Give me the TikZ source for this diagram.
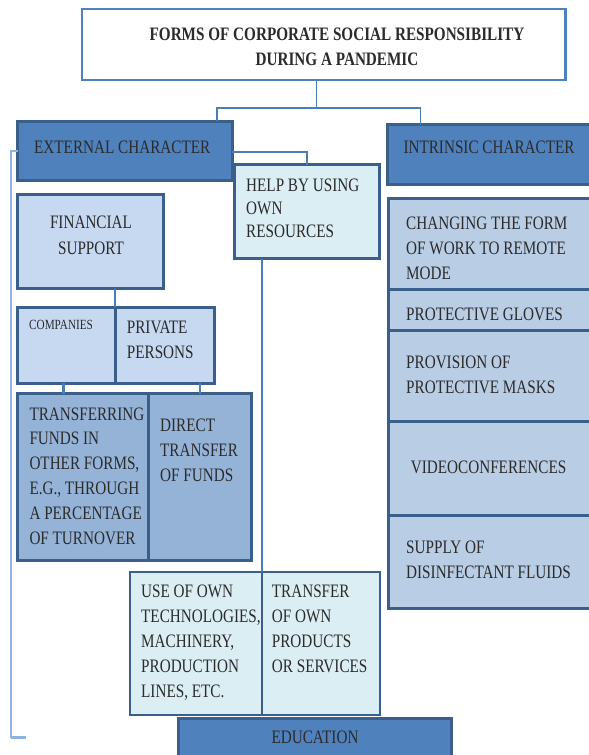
\documentclass[tikz,border=0pt]{standalone}
\usepackage{fontspec}
\setmainfont{Liberation Serif}[FakeStretch=0.8]
\definecolor{darkb}{HTML}{3A5F8B}
\definecolor{midb}{HTML}{4F81BD}
\definecolor{lineb}{HTML}{4A7EBB}
\definecolor{leftb}{HTML}{8DB3E2}
\definecolor{fillfin}{HTML}{C6D9F1}
\definecolor{filltr}{HTML}{95B3D7}
\definecolor{fillrs}{HTML}{B9CDE5}
\definecolor{fillhp}{HTML}{DBEEF4}
\definecolor{txtc}{HTML}{2B2B2B}
\begin{document}
\begin{tikzpicture}[x=1pt,y=-1pt,
  cell/.style={draw=darkb, line width=3pt, inner sep=0pt, outer sep=0pt, anchor=north west},
  txt/.style={font=\fontsize{19}{25}\selectfont, text=txtc, inner sep=0pt, align=left, anchor=base west},
  conn/.style={draw=lineb, line width=1.3pt},
  connb/.style={draw=lineb, line width=2.4pt},
  leftline/.style={draw=leftb, line width=1.6pt}]
\useasboundingbox (0,0) rectangle (589,755);
\fill[white] (0,0) rectangle (589,755);

% boxes
\node[cell, draw=midb, line width=2.5pt, fill=white, minimum width=483.5pt, minimum height=71pt] (title) at (82,9) {};
\node[cell, fill=midb, minimum width=214.5pt, minimum height=59.5pt] (ext) at (17.5,121) {};
\node[cell, fill=midb, minimum width=215pt, minimum height=59.5pt] (intr) at (387,124.5) {};
\node[cell, fill=fillhp, minimum width=145pt, minimum height=94pt] (help) at (234.5,164.5) {};
\node[cell, fill=fillfin, minimum width=146pt, minimum height=94pt] (fin) at (17.5,194.5) {};
\node[cell, fill=fillfin, minimum width=97.5pt, minimum height=76pt] (comp) at (17.5,307) {};
\node[cell, fill=fillfin, minimum width=99.5pt, minimum height=76pt] (priv) at (115,307) {};
\node[cell, fill=filltr, minimum width=131pt, minimum height=167pt] (trans) at (17.5,393.5) {};
\node[cell, fill=filltr, minimum width=103pt, minimum height=167pt] (direct) at (148.5,393.5) {};
\node[cell, line width=2pt, fill=fillhp, minimum width=131.7pt, minimum height=143.5pt] (useown) at (130,571.5) {};
\node[cell, line width=2pt, fill=fillhp, minimum width=118pt, minimum height=143.5pt] (transown) at (261.7,571.5) {};
\node[cell, line width=2.5pt, fill=midb, minimum width=273pt, minimum height=60pt] (edu) at (178.5,718.5) {};
\node[cell, fill=fillrs, minimum width=215pt, minimum height=91pt] (chg) at (388.5,198.5) {};
\node[cell, fill=fillrs, minimum width=215pt, minimum height=40.5pt] (glov) at (388.5,289.5) {};
\node[cell, fill=fillrs, minimum width=215pt, minimum height=91.5pt] (mask) at (388.5,330) {};
\node[cell, fill=fillrs, minimum width=215pt, minimum height=93.5pt] (video) at (388.5,421.5) {};
\node[cell, fill=fillrs, minimum width=215pt, minimum height=93pt] (supply) at (388.5,515) {};

% connector points
\coordinate (j1) at (316.7,108);
\coordinate (jL) at (217,108);
\coordinate (jR) at (420.7,108);
\coordinate (j2) at (307,152);
\coordinate (jB) at (11,737);
\coordinate (jE) at (26,737);
\coordinate (j4) at (63.3,393.5);
\coordinate (j5) at (200,393.5);

% connectors
\draw[conn] (title.south -| j1) -- (j1);
\draw[conn] (ext.north -| jL) -- (jL) -- (jR) -- (intr.north -| jR);
\draw[conn] (ext.east |- j2) -- (j2) -- (help.north -| j2);
\draw[leftline] (ext.west) -- (ext.west -| jB) -- (jB) -- (jE);
\draw[leftb, line width=3pt] (jB) -- (jE);
\draw[connb] (comp.north east |- fin.south) -- (comp.north east);
\draw[connb] (j4 |- comp.south) -- (j4);
\draw[connb] (j5 |- priv.south) -- (j5);
\draw[conn, line width=2pt] (useown.north east |- help.south) -- (useown.north east);

% texts (base = baseline of the last line)
\node[txt, font=\fontsize{19}{25}\selectfont\bfseries, align=center, anchor=base] (ttitle) at (337,65) {FORMS OF CORPORATE SOCIAL RESPONSIBILITY\\DURING A PANDEMIC};
\node[txt] (text) at (34,153) {EXTERNAL CHARACTER};
\node[txt] (tintr) at (403.3,153) {INTRINSIC CHARACTER};
\node[txt, font=\fontsize{19}{23}\selectfont] (thelp) at (246,237) {HELP BY USING\\OWN\\RESOURCES};
\node[txt, font=\fontsize{19}{26}\selectfont, align=center, anchor=base] (tfin) at (91,254) {FINANCIAL\\SUPPORT};
\node[txt, font=\fontsize{14}{17}\selectfont] (tcomp) at (29,329) {COMPANIES};
\node[txt] (tpriv) at (126.7,358) {PRIVATE\\PERSONS};
\node[txt, font=\fontsize{19}{24.8}\selectfont] (ttrans) at (29.3,544) {TRANSFERRING\\FUNDS IN\\OTHER FORMS,\\E.G., THROUGH\\A PERCENTAGE\\OF TURNOVER};
\node[txt] (tdirect) at (160,481.7) {DIRECT\\TRANSFER\\OF FUNDS};
\node[txt] (tuse) at (141,697.7) {USE OF OWN\\TECHNOLOGIES,\\MACHINERY,\\PRODUCTION\\LINES, ETC.};
\node[txt] (ttown) at (271.7,672.7) {TRANSFER\\OF OWN\\PRODUCTS\\OR SERVICES};
\node[txt, anchor=base] (tedu) at (315,743) {EDUCATION};
\node[txt] (tchg) at (406,279.3) {CHANGING THE FORM\\OF WORK TO REMOTE\\MODE};
\node[txt] (tglov) at (406,320) {PROTECTIVE GLOVES};
\node[txt] (tmask) at (406,393.3) {PROVISION OF\\PROTECTIVE MASKS};
\node[txt] (tvideo) at (410.7,473.3) {VIDEOCONFERENCES};
\node[txt] (tsupply) at (406,578.3) {SUPPLY OF\\DISINFECTANT FLUIDS};
\end{tikzpicture}
\end{document}
